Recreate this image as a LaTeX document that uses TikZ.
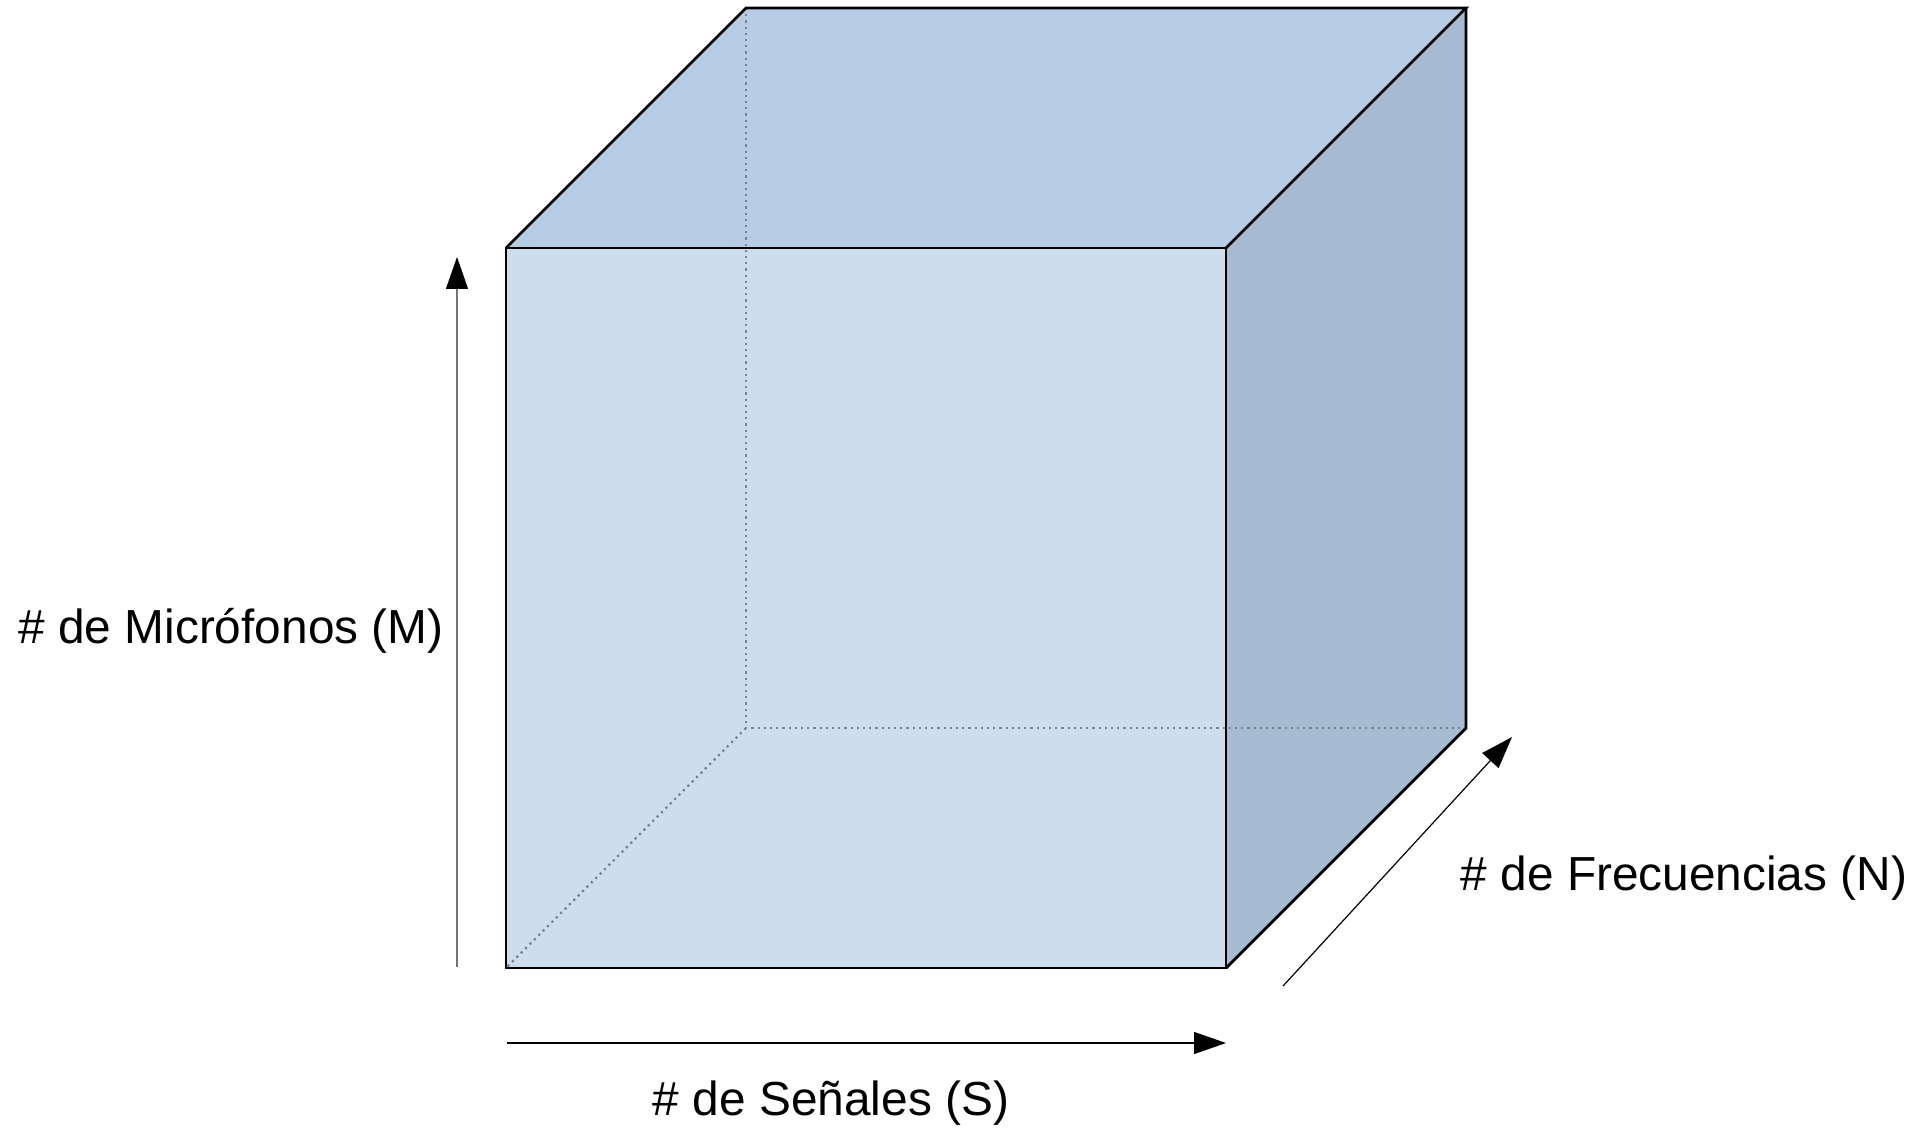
\documentclass[tikz,border=0pt]{standalone}
\usepackage{fontspec}
\setmainfont{Liberation Sans}
\usetikzlibrary{arrows.meta,positioning,calc}
\definecolor{topface}{RGB}{183,205,230}
\definecolor{frontface}{RGB}{206,221,236}
\definecolor{sideface}{RGB}{167,187,211}
\definecolor{hidden}{RGB}{120,130,145}
\tikzset{
  edge/.style={draw=black, line width=1.4pt, line join=miter},
  hid/.style={hidden, line width=1.1pt, dotted},
  axarr/.style={-{Triangle[length=16pt, width=11pt, color=black]}, line width=0.6pt},
  axlab/.style={font=\fontsize{23.9}{28}\selectfont, anchor=base, inner sep=0pt},
}

\begin{document}
\begin{tikzpicture}[x=0.5pt, y=-0.5pt]
    \useasboundingbox (0,0) rectangle (1925,1128);
    \def\D{240}
    % front face corners
    \coordinate (ftl) at (506,248);
    \coordinate (ftr) at (1226,248);
    \coordinate (fbr) at (1226,968);
    \coordinate (fbl) at (506,968);
    % back face corners
    \coordinate (btl) at ($(ftl)+(\D,-\D)$);
    \coordinate (btr) at ($(ftr)+(\D,-\D)$);
    \coordinate (bbr) at ($(fbr)+(\D,-\D)$);
    \coordinate (bbl) at ($(fbl)+(\D,-\D)$);
    % faces
    \fill[topface] (ftl) -- (btl) -- (btr) -- (ftr) -- cycle;
    \fill[sideface] (ftr) -- (btr) -- (bbr) -- (fbr) -- cycle;
    \fill[frontface] (ftl) rectangle (fbr);
    % hidden edges
    \draw[hid] (btl) -- (bbl) -- (bbr);
    \draw[hid] (bbl) -- (fbl);
    % visible edges
    \draw[edge] (ftl) rectangle (fbr);
    \draw[edge] (ftl) -- (btl) -- (btr) -- (ftr);
    \draw[edge] (btr) -- (bbr) -- (fbr);
    % axes
    \coordinate (mstart) at (457,967);
    \coordinate (mend) at (457,257);
    \coordinate (sstart) at (507,1043);
    \coordinate (send) at (1226,1043);
    \coordinate (nstart) at (1283,986);
    \coordinate (nend) at (1512,737);
    \draw[axarr, draw=black!55] (mstart) -- (mend);
    \draw[axarr] (sstart) -- (send);
    \draw[axarr] (nstart) -- (nend);
    \node[axlab] (mlab) at (231,643) {\# de Micrófonos (M)};
    \node[axlab] (slab) at (831,1115) {\# de Señales (S)};
    \node[axlab] (nlab) at (1684,890) {\# de Frecuencias (N)};
\end{tikzpicture}
\end{document}
